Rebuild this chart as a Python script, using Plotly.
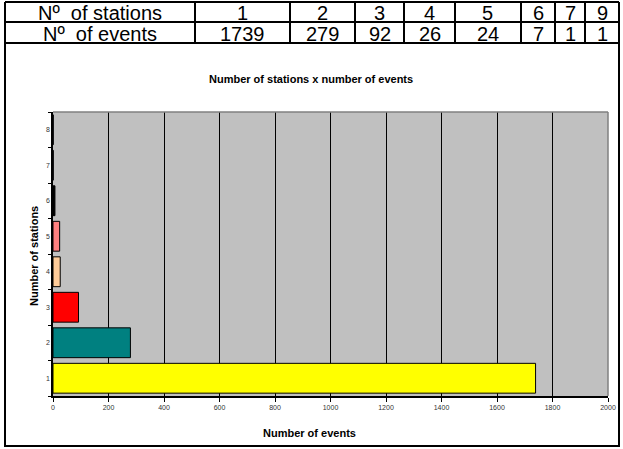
import plotly.graph_objects as go

# ---- data ----
table_row_labels = ["Nº  of stations", "Nº  of events"]
table_stations = ["1", "2", "3", "4", "5", "6", "7", "9"]
table_events = [1739, 279, 92, 26, 24, 7, 1, 1]

stations = ["1", "2", "3", "4", "5", "6", "7", "8"]
events = [1739, 279, 92, 26, 24, 7, 1, 1]
bar_colors = ["#FFFF00", "#008080", "#FF0000", "#FFCC99", "#FF8080", "#000000", "#666699", "#99CCFF"]
x_ticks = [0, 200, 400, 600, 800, 1000, 1200, 1400, 1600, 1800, 2000]

W, H = 623, 449
FONT = "Liberation Sans, Arial, sans-serif"


def px(x):
    return x / W


def py(y):
    return 1 - y / H


fig = go.Figure()

fig.add_trace(go.Bar(
    x=events, y=stations, orientation="h",
    marker=dict(color=bar_colors, line=dict(color="black", width=1)),
    xaxis="x", yaxis="y", showlegend=False,
))

# ---- table layout (pixel grid) ----
col_edges = [5, 195, 290, 355, 404, 455, 521, 555, 585, 619]
row_edges = [2, 22, 43]

shapes = []
for y in row_edges[:-1]:
    shapes.append(dict(type="line", xref="paper", yref="paper",
                       x0=px(col_edges[0]), x1=px(col_edges[-1]), y0=py(y), y1=py(y),
                       line=dict(color="black", width=2)))
for x in col_edges:
    shapes.append(dict(type="line", xref="paper", yref="paper",
                       x0=px(x), x1=px(x), y0=py(row_edges[0]), y1=py(row_edges[-1]),
                       line=dict(color="black", width=2)))

# outer chart frame
shapes.append(dict(type="rect", xref="paper", yref="paper",
                   x0=px(5), x1=px(619), y0=py(446), y1=py(43),
                   line=dict(color="black", width=2), layer="below"))
# plot-area top/right border (gray)
shapes.append(dict(type="line", xref="x domain", yref="y domain",
                   x0=0, x1=1, y0=1, y1=1, line=dict(color="#808080", width=1.5)))
shapes.append(dict(type="line", xref="x domain", yref="y domain",
                   x0=1, x1=1, y0=0, y1=1, line=dict(color="#808080", width=1.5)))

annotations = []
rows = [[table_row_labels[0]] + table_stations,
        [table_row_labels[1]] + [str(v) for v in table_events]]
for r, row in enumerate(rows):
    yc = (row_edges[r] + row_edges[r + 1]) / 2 + 1
    for c, txt in enumerate(row):
        xc = (col_edges[c] + col_edges[c + 1]) / 2
        annotations.append(dict(text=txt, xref="paper", yref="paper",
                                x=px(xc), y=py(yc), showarrow=False,
                                xanchor="center", yanchor="middle",
                                font=dict(size=20, family=FONT, color="black")))

annotations += [
    dict(text="<b>Number of stations x number of events</b>", xref="paper", yref="paper",
         x=px(311), y=py(79), showarrow=False, font=dict(size=11, family=FONT),
         xanchor="center", yanchor="middle"),
    dict(text="<b>Number of events</b>", xref="paper", yref="paper",
         x=px(309), y=py(433), showarrow=False, font=dict(size=11, family=FONT),
         xanchor="center", yanchor="middle"),
    dict(text="<b>Number of stations</b>", xref="paper", yref="paper",
         x=px(34), y=py(256), showarrow=False, font=dict(size=11, family=FONT),
         textangle=-90, xanchor="center", yanchor="middle"),
]

fig.update_layout(
    width=W, height=H,
    margin=dict(l=0, r=0, t=0, b=0, autoexpand=False),
    paper_bgcolor="white",
    plot_bgcolor="#C0C0C0",
    bargap=0.16,
    font=dict(family=FONT, color="black"),
    xaxis=dict(domain=[px(53), px(608)], range=[0, 2000],
               tickvals=x_ticks, ticktext=[str(v) for v in x_ticks],
               tickfont=dict(size=7, color="#333333"),
               showgrid=True, gridcolor="black", gridwidth=1,
               showline=True, linecolor="black", linewidth=1.5,
               ticks="outside", ticklen=4, tickcolor="black",
               zeroline=False, anchor="y", fixedrange=True, automargin=False),
    yaxis=dict(domain=[py(396), py(112)], type="category",
               categoryorder="array", categoryarray=stations,
               range=[-0.5, 7.5],
               tickfont=dict(size=7, color="#333333"),
               showgrid=False,
               showline=True, linecolor="black", linewidth=1.5,
               ticks="outside", ticklen=3, tickcolor="black",
               tickson="boundaries",
               anchor="x", fixedrange=True, automargin=False),
    shapes=shapes,
    annotations=annotations,
)

fig.write_html("out.html")
